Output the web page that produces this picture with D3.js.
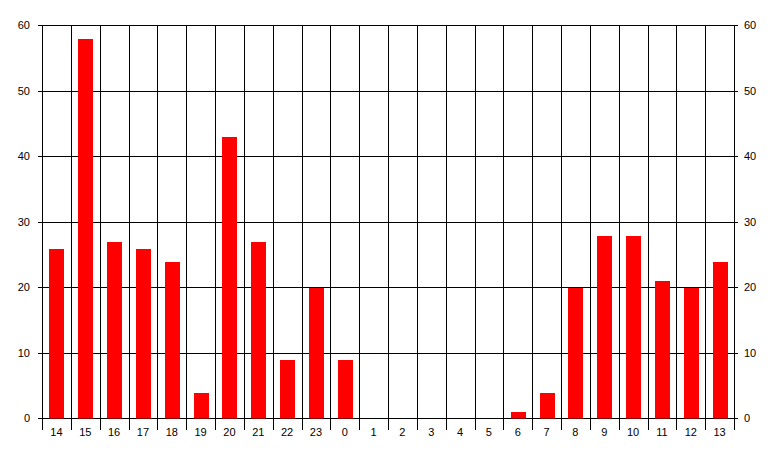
<!DOCTYPE html>
<html>
<head>
<meta charset="utf-8">
<script src="https://cdn.jsdelivr.net/npm/d3@7"></script>
<style>
  body { margin: 0; background: #fff; }
  text { font-family: "Liberation Sans", Arial, sans-serif; font-size: 11px; fill: #000; }
</style>
</head>
<body>
<svg id="chart" width="777" height="457"></svg>
<script>
var hours = ["14","15","16","17","18","19","20","21","22","23","0","1","2","3","4","5","6","7","8","9","10","11","12","13"];
var counts = [26,58,27,26,24,4,43,27,9,20,9,0,0,0,0,0,1,4,20,28,28,21,20,24];
var yTicks = [0,10,20,30,40,50,60];

var svg = d3.select("#chart");
var plotLeft = 42, plotRight = 734, plotTop = 25, plotBottom = 418;

var x = d3.scaleBand().domain(hours).range([plotLeft, plotRight]).paddingInner(0).paddingOuter(0);
var y = d3.scaleLinear().domain([0, 60]).range([plotBottom, plotTop]);

// horizontal grid
svg.append("g")
  .selectAll("line")
  .data(yTicks)
  .enter()
  .append("line")
  .attr("x1", plotLeft - 4).attr("x2", plotRight + 4)
  .attr("y1", d => Math.round(y(d)) + 0.5).attr("y2", d => Math.round(y(d)) + 0.5)
  .style("stroke", "#000");

// vertical grid at category boundaries
var bounds = hours.map(h => x(h)).concat([plotRight]);
svg.append("g")
  .selectAll("line")
  .data(bounds)
  .enter()
  .append("line")
  .attr("x1", d => Math.round(d) + 0.5).attr("x2", d => Math.round(d) + 0.5)
  .attr("y1", plotTop).attr("y2", plotBottom + 12)
  .style("stroke", "#000");

// bars
var bw = x.bandwidth() * 0.52;
svg.append("g")
  .selectAll("rect")
  .data(counts)
  .enter()
  .append("rect")
  .attr("x", (d, i) => Math.round(x(hours[i]) + (x.bandwidth() - bw) / 2 + 0.5))
  .attr("width", Math.round(bw))
  .attr("y", d => Math.round(y(d)) + 1)
  .attr("height", d => d == 0 ? 0 : Math.round(plotBottom - y(d)) - 0.5)
  .style("fill", "#ff0000");

// left axis labels
svg.append("g")
  .selectAll("text")
  .data(yTicks)
  .enter()
  .append("text")
  .attr("x", 30).attr("y", d => y(d) + 4)
  .attr("text-anchor", "end")
  .text(d => d);

// right axis labels
svg.append("g")
  .selectAll("text")
  .data(yTicks)
  .enter()
  .append("text")
  .attr("x", 744).attr("y", d => y(d) + 4)
  .attr("text-anchor", "start")
  .text(d => d);

// category labels
svg.append("g")
  .selectAll("text")
  .data(hours)
  .enter()
  .append("text")
  .attr("x", d => x(d) + x.bandwidth() / 2)
  .attr("y", 436)
  .attr("text-anchor", "middle")
  .text(d => d);
</script>
</body>
</html>
